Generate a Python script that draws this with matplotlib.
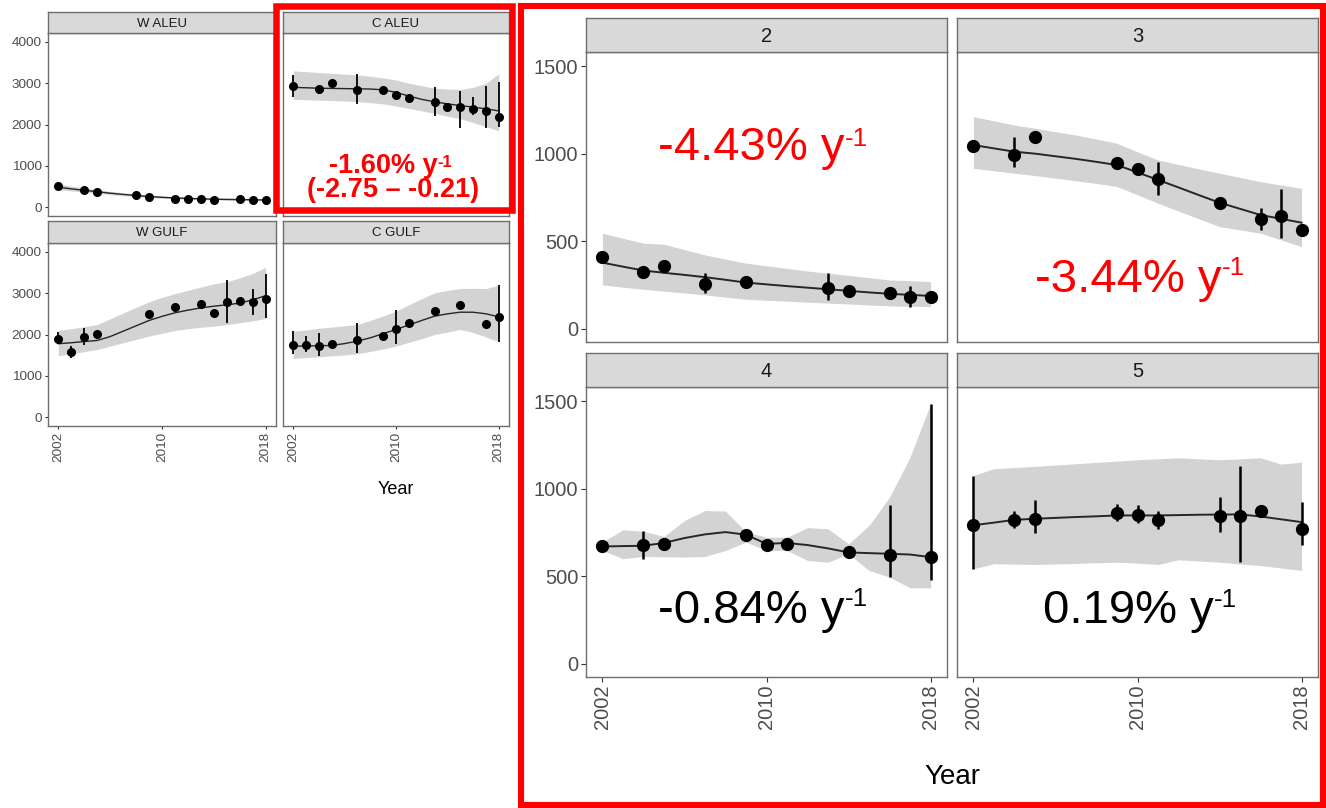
import numpy as np
import matplotlib.pyplot as plt
from matplotlib.patches import Rectangle

plt.rcParams['font.family'] = ['Liberation Sans', 'DejaVu Sans']

W, H = 1326, 808
fit_years = np.arange(2002, 2019)
nan = np.nan

# ---- regional series (small facets) ----
waleu_years = [2002, 2004, 2005, 2008, 2009, 2011, 2012, 2013, 2014, 2016, 2017, 2018]
waleu_obs = [516, 412, 371, 291, 235, 194, 194, 202, 170, 194, 178, 170]
waleu_elo = [nan] * 12
waleu_ehi = [nan] * 12
waleu_fit = [480, 440, 405, 370, 335, 305, 280, 255, 235, 220, 208, 198, 190, 184, 180, 175, 170]
waleu_lo = [420, 390, 360, 330, 300, 275, 250, 230, 212, 198, 187, 178, 170, 164, 158, 152, 145]
waleu_hi = [560, 505, 460, 420, 380, 345, 315, 290, 265, 248, 235, 225, 215, 210, 205, 202, 200]

caleu_years = [2002, 2004, 2005, 2007, 2009, 2010, 2011, 2013, 2014, 2015, 2016, 2017, 2018]
caleu_obs = [2941, 2853, 2998, 2836, 2836, 2715, 2635, 2545, 2432, 2424, 2368, 2335, 2190]
caleu_elo = [2675, 2739, nan, 2497, nan, nan, nan, 2206, nan, 1908, 2230, 1908, 1947]
caleu_ehi = [3200, 2958, nan, 3224, nan, nan, nan, 2901, nan, 2820, 2659, 2933, 3038]
caleu_fit = [2900, 2890, 2880, 2875, 2870, 2865, 2860, 2840, 2780, 2690, 2610, 2550, 2500, 2460, 2420, 2380, 2330]
caleu_lo = [2610, 2600, 2590, 2580, 2570, 2555, 2530, 2500, 2450, 2390, 2330, 2270, 2200, 2140, 2050, 1950, 1850]
caleu_hi = [3300, 3280, 3260, 3240, 3220, 3200, 3170, 3130, 3080, 3000, 2940, 2880, 2860, 2850, 2900, 3000, 3230]

wgulf_years = [2002, 2003, 2004, 2005, 2009, 2011, 2013, 2014, 2015, 2016, 2017, 2018]
wgulf_obs = [1897, 1582, 1928, 2018, 2502, 2678, 2744, 2526, 2792, 2807, 2782, 2865]
wgulf_elo = [1759, 1437, 1742, nan, nan, nan, nan, nan, 2284, nan, 2468, 2388]
wgulf_ehi = [2066, 1718, 2163, nan, nan, nan, nan, nan, 3324, nan, 3114, 3470]
wgulf_fit = [1776, 1800, 1830, 1856, 1950, 2080, 2210, 2340, 2440, 2526, 2590, 2645, 2686, 2720, 2760, 2840, 2940]
wgulf_lo = [1486, 1530, 1585, 1638, 1720, 1800, 1880, 1960, 2030, 2098, 2140, 2175, 2202, 2240, 2284, 2330, 2388]
wgulf_hi = [2098, 2140, 2190, 2243, 2380, 2520, 2660, 2792, 2900, 2991, 3070, 3150, 3227, 3280, 3371, 3480, 3629]

cgulf_years = [2002, 2003, 2004, 2005, 2007, 2009, 2010, 2011, 2013, 2015, 2017, 2018]
cgulf_obs = [1742, 1735, 1718, 1776, 1863, 1960, 2122, 2274, 2565, 2719, 2243, 2429]
cgulf_elo = [1534, 1582, 1486, nan, 1549, nan, 1759, nan, nan, nan, nan, 1824]
cgulf_ehi = [2081, 1953, 2042, nan, 2274, nan, 2582, nan, nan, nan, nan, 3194]
cgulf_fit = [1718, 1722, 1727, 1735, 1780, 1839, 1920, 2020, 2122, 2230, 2340, 2444, 2500, 2541, 2540, 2502, 2429]
cgulf_lo = [1420, 1440, 1460, 1480, 1505, 1534, 1590, 1650, 1718, 1810, 1900, 2001, 2060, 2122, 2050, 1940, 1824]
cgulf_hi = [2081, 2110, 2150, 2180, 2210, 2243, 2340, 2450, 2565, 2720, 2870, 3010, 3070, 3114, 3120, 3114, 3194]

# ---- C ALEU sub-areas 2-5 ----
a2_years = [2002, 2004, 2005, 2007, 2009, 2013, 2014, 2016, 2017, 2018]
a2_obs = [409, 327, 361, 257, 270, 236, 218, 207, 179, 184]
a2_elo = [nan, nan, nan, 207, nan, 165, nan, nan, 124, nan]
a2_ehi = [nan, nan, nan, 321, nan, 321, nan, nan, 247, nan]
a2_fit = [378, 355, 333, 320, 308, 295, 280, 264, 254, 244, 235, 226, 217, 208, 200, 194, 188]
a2_lo = [251, 238, 226, 215, 205, 194, 181, 169, 163, 158, 152, 147, 142, 136, 131, 129, 127]
a2_hi = [546, 517, 489, 483, 452, 422, 398, 375, 360, 345, 330, 318, 305, 292, 279, 275, 270]

a3_years = [2002, 2004, 2005, 2009, 2010, 2011, 2014, 2016, 2017, 2018]
a3_obs = [1044, 992, 1095, 947, 913, 856, 719, 627, 643, 566]
a3_elo = [nan, 922, nan, nan, nan, 764, nan, 565, 517, nan]
a3_ehi = [nan, 1093, nan, nan, nan, 951, nan, 688, 798, nan]
a3_fit = [1049, 1030, 1011, 1000, 985, 970, 953, 935, 893, 850, 807, 763, 720, 685, 650, 628, 606]
a3_lo = [916, 902, 888, 875, 860, 845, 830, 812, 765, 717, 672, 628, 583, 565, 546, 508, 469]
a3_hi = [1211, 1187, 1163, 1145, 1125, 1106, 1083, 1059, 1010, 964, 938, 913, 888, 864, 840, 821, 802]

a4_years = [2002, 2004, 2005, 2009, 2010, 2011, 2014, 2016, 2018]
a4_obs = [670, 676, 685, 733, 676, 685, 636, 619, 607]
a4_elo = [nan, 600, nan, nan, nan, nan, nan, 495, 480]
a4_ehi = [nan, 756, nan, nan, nan, nan, nan, 908, 1481]
a4_fit = [670, 672, 674, 690, 718, 739, 752, 737, 685, 690, 678, 659, 636, 632, 628, 624, 609]
a4_lo = [647, 600, 613, 611, 609, 613, 647, 695, 647, 647, 590, 580, 628, 533, 495, 434, 434]
a4_hi = [695, 765, 757, 727, 818, 875, 872, 752, 723, 723, 777, 771, 685, 790, 951, 1180, 1485]

a5_years = [2002, 2004, 2005, 2009, 2010, 2011, 2014, 2015, 2016, 2018]
a5_obs = [794, 822, 828, 860, 851, 822, 841, 841, 874, 771]
a5_elo = [543, 777, 746, 818, 803, 771, 752, 580, nan, 676]
a5_ehi = [1070, 872, 937, 910, 904, 872, 951, 1132, nan, 923]
a5_fit = [791, 806, 822, 828, 833, 838, 842, 847, 847, 847, 849, 851, 852, 853, 841, 825, 809]
a5_lo = [543, 571, 569, 567, 570, 573, 577, 580, 575, 567, 594, 587, 580, 570, 561, 547, 533]
a5_hi = [1075, 1114, 1120, 1127, 1135, 1142, 1150, 1157, 1165, 1170, 1176, 1170, 1165, 1170, 1176, 1140, 1151]

x_ticks = [2002, 2010, 2018]
small_yticks = [0, 1000, 2000, 3000, 4000]
big_yticks = [0, 500, 1000, 1500]

BAND = '#D3D3D3'
BORDER = '#6E6E6E'
STRIP = '#D9D9D9'

fig = plt.figure(figsize=(W / 100, H / 100), dpi=100)


def px_rect(x0, y0, x1, y1):
    return [x0 / W, 1 - y1 / H, (x1 - x0) / W, (y1 - y0) / H]


def facet(box, strip_h, title, series, ylim, yticks, show_y, show_x, st):
    x0, y0, x1, y1 = box
    ax = fig.add_axes(px_rect(x0, y0, x1, y1))
    years, obs, elo, ehi, fit, lo, hi = series
    ax.fill_between(fit_years, lo, hi, color=BAND, lw=0)
    ax.plot(fit_years, fit, color='#262626', lw=st['fit_lw'])
    ax.vlines(years, elo, ehi, color='black', lw=st['err_lw'])
    ax.plot(years, obs, 'o', color='black', ms=st['ms'])
    ax.set_xlim(2001.2, 2018.8)
    ax.set_ylim(*ylim)
    ax.set_xticks(x_ticks)
    ax.set_yticks(yticks)
    ax.tick_params(length=st['tick_len'], width=0.8, color='#333333',
                   labelcolor='#4D4D4D', labelsize=st['tick_fs'], pad=2)
    ax.tick_params(axis='x', labelrotation=90)
    ax.tick_params(left=show_y, labelleft=show_y,
                   bottom=show_x, labelbottom=show_x)
    for lab in ax.get_xticklabels():
        lab.set_va('top')
    for sp in ax.spines.values():
        sp.set_color(BORDER)
        sp.set_linewidth(1.0)

    sax = fig.add_axes(px_rect(x0, y0 - strip_h, x1, y0))
    sax.set_facecolor(STRIP)
    sax.set_xticks([])
    sax.set_yticks([])
    for sp in sax.spines.values():
        sp.set_color(BORDER)
        sp.set_linewidth(1.0)
    sax.text(0.5, 0.45, title, transform=sax.transAxes, ha='center', va='center',
             fontsize=st['strip_fs'], color='#1A1A1A')
    return ax


small = dict(fit_lw=1.0, err_lw=1.3, ms=5.5, tick_len=2.5, tick_fs=9.7, strip_fs=9.5)
big = dict(fit_lw=1.4, err_lw=1.8, ms=8.5, tick_len=3.5, tick_fs=14.5, strip_fs=14.5)

small_ylim = (-218, 4218)
big_ylim = (-75, 1580)

facet((48, 33, 276, 216), 21, 'W ALEU',
      (waleu_years, waleu_obs, waleu_elo, waleu_ehi, waleu_fit, waleu_lo, waleu_hi),
      small_ylim, small_yticks, True, False, small)
facet((283, 33, 509, 216), 21, 'C ALEU',
      (caleu_years, caleu_obs, caleu_elo, caleu_ehi, caleu_fit, caleu_lo, caleu_hi),
      small_ylim, small_yticks, False, False, small)
facet((48, 243, 276, 426), 22, 'W GULF',
      (wgulf_years, wgulf_obs, wgulf_elo, wgulf_ehi, wgulf_fit, wgulf_lo, wgulf_hi),
      small_ylim, small_yticks, True, True, small)
ax_cg = facet((283, 243, 509, 426), 22, 'C GULF',
              (cgulf_years, cgulf_obs, cgulf_elo, cgulf_ehi, cgulf_fit, cgulf_lo, cgulf_hi),
              small_ylim, small_yticks, False, True, small)

ax2 = facet((586, 52, 947, 342), 34, '2',
            (a2_years, a2_obs, a2_elo, a2_ehi, a2_fit, a2_lo, a2_hi),
            big_ylim, big_yticks, True, False, big)
ax3 = facet((957, 52, 1318, 342), 34, '3',
            (a3_years, a3_obs, a3_elo, a3_ehi, a3_fit, a3_lo, a3_hi),
            big_ylim, big_yticks, False, False, big)
ax4 = facet((586, 387, 947, 677), 34, '4',
            (a4_years, a4_obs, a4_elo, a4_ehi, a4_fit, a4_lo, a4_hi),
            big_ylim, big_yticks, True, True, big)
ax5 = facet((957, 387, 1318, 677), 34, '5',
            (a5_years, a5_obs, a5_elo, a5_ehi, a5_fit, a5_lo, a5_hi),
            big_ylim, big_yticks, False, True, big)

fig.text(396 / W, 1 - 490 / H, 'Year', ha='center', va='center', fontsize=13, color='black')
fig.text(952 / W, 1 - 777 / H, 'Year', ha='center', va='center', fontsize=20, color='black')


def rate(ax, x, y, sup_top, s, color, fs, weight='normal', sup_scale=0.55):
    # trend text with a "-1" exponent tucked after it
    main = fig.text(x / W, 1 - y / H, s, ha='left', va='baseline',
                    fontsize=fs, color=color, weight=weight)
    ax.annotate('-1', xy=(1.0, 1 - sup_top / H), xycoords=(main, 'figure fraction'),
                ha='left', va='top', fontsize=fs * sup_scale, color=color, weight=weight)


rate(ax2, 658, 160, 127, '-4.43% y', 'red', 34)
rate(ax3, 1035, 292, 256, '-3.44% y', 'red', 34)
rate(ax4, 658, 623, 587, '-0.84% y', 'black', 34)
rate(ax5, 1043, 623, 588, '0.19% y', 'black', 34)
rate(ax_cg, 329, 173, 155, '-1.60% y', 'red', 19.5, 'bold', 0.62)
fig.text(393 / W, 1 - 197 / H, '(-2.75 \u2013 -0.21)', ha='center', va='baseline',
         fontsize=19.5, color='red', weight='bold')

# highlight frames
for x0, y0, x1, y1, lw in [(275.5, 6, 512, 210, 4.7), (520.5, 5.5, 1322.5, 804.5, 4.4)]:
    fig.add_artist(Rectangle((x0 / W, 1 - y1 / H), (x1 - x0) / W, (y1 - y0) / H,
                             transform=fig.transFigure, fill=False, ec='red', lw=lw,
                             zorder=10))

fig.savefig('out.png', dpi=100)
